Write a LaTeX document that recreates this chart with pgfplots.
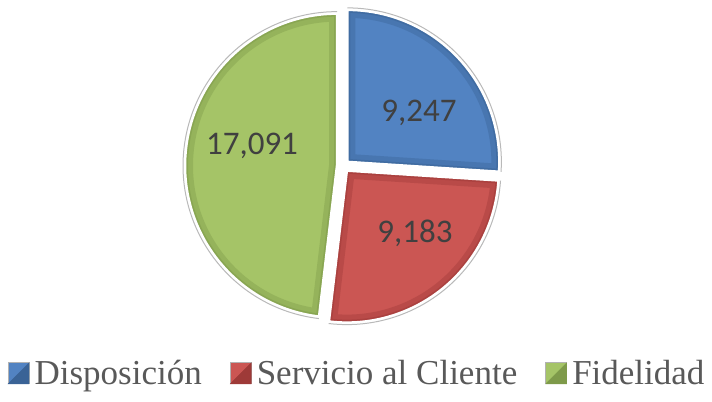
\documentclass[border=0pt]{standalone}
\usepackage{pgfplots}
\usepackage{pgfplotstable}
\usepackage{fontspec}
\usetikzlibrary{calc}
\pgfplotsset{compat=1.18}
\setmainfont{Liberation Serif}
\newfontfamily\lblfont{Carlito}
\definecolor{cBlue}{HTML}{5283C2}
\definecolor{cRed}{HTML}{CB5653}
\definecolor{cGreen}{HTML}{A5C467}
\definecolor{dBlue}{HTML}{3A6396}
\definecolor{dRed}{HTML}{9E3A38}
\definecolor{dGreen}{HTML}{7E9A4A}
\definecolor{txtgray}{HTML}{595959}
\definecolor{lblgray}{HTML}{404040}

\pgfplotstableread{
name value
Disposicion 9247
Servicio 9183
Fidelidad 17091
}\piedata

\begin{document}
\begin{tikzpicture}
% read values
\pgfplotstablegetelem{0}{value}\of\piedata \let\vA\pgfplotsretval
\pgfplotstablegetelem{1}{value}\of\piedata \let\vB\pgfplotsretval
\pgfplotstablegetelem{2}{value}\of\piedata \let\vC\pgfplotsretval
\edef\tot{\fpeval{\vA+\vB+\vC}}
% angles (clockwise from 12 o'clock)
\edef\aS{90}
\edef\aE{\fpeval{round(90-360*\vA/\tot,4)}}
\edef\bE{\fpeval{round(\aE-360*\vB/\tot,4)}}
\edef\cE{\fpeval{round(\bE-360*\vC/\tot,4)}}
\edef\aM{\fpeval{(\aS+\aE)/2}}
\edef\bM{\fpeval{(\aE+\bE)/2}}
\edef\cM{\fpeval{(\bE+\cE)/2}}
\def\R{152}
\def\ex{6}
\def\cx{343}
\def\cy{236}
\edef\axA{\fpeval{round(\cx+\ex*cosd(\aM),3)}}\edef\ayA{\fpeval{round(\cy+\ex*sind(\aM),3)}}
\edef\axB{\fpeval{round(\cx+\ex*cosd(\bM),3)}}\edef\ayB{\fpeval{round(\cy+\ex*sind(\bM),3)}}
\edef\axC{\fpeval{round(\cx+\ex*cosd(\cM),3)}}\edef\ayC{\fpeval{round(\cy+\ex*sind(\cM),3)}}
\begin{axis}[
  scale only axis, width=712bp, height=402bp,
  xmin=0, xmax=712, ymin=0, ymax=402,
  hide axis, clip=false,
  legend columns=3,
  legend style={at={(axis description cs:0.5,0.071)}, anchor=center,
    draw=none, fill=none, font=\fontsize{35bp}{40bp}\selectfont, text=txtgray,
    nodes={inner sep=0bp, anchor=west},
    /tikz/every odd column/.append style={column sep=5bp},
    /tikz/every even column/.append style={column sep=28bp}},
]
\addlegendimage{legend image code/.code={\draw[fill=cBlue, draw=gray!60, line width=1bp] (0bp,-10.5bp) rectangle (21bp,10.5bp); \fill[dBlue] (0bp,-10.5bp) -- (21bp,10.5bp) -- (21bp,-10.5bp) -- cycle;}}
\addlegendentry{Disposición}
\addlegendimage{legend image code/.code={\draw[fill=cRed, draw=gray!60, line width=1bp] (0bp,-10.5bp) rectangle (21bp,10.5bp); \fill[dRed] (0bp,-10.5bp) -- (21bp,10.5bp) -- (21bp,-10.5bp) -- cycle;}}
\addlegendentry{Servicio al Cliente}
\addlegendimage{legend image code/.code={\draw[fill=cGreen, draw=gray!60, line width=1bp] (0bp,-10.5bp) rectangle (21bp,10.5bp); \fill[dGreen] (0bp,-10.5bp) -- (21bp,10.5bp) -- (21bp,-10.5bp) -- cycle;}}
\addlegendentry{Fidelidad}

% slices
\foreach \ax/\ay/\sa/\ea/\fc/\dc in {\axA/\ayA/\aS/\aE/cBlue/dBlue, \axB/\ayB/\aE/\bE/cRed/dRed, \axC/\ayC/\bE/\cE/cGreen/dGreen}{
  \edef\doslice{%
    \noexpand\fill[\fc] (axis cs:\ax,\ay) -- ++(\sa:\R bp) arc[start angle=\sa, end angle=\ea, radius=\R bp] -- cycle;
    \noexpand\begin{scope}
    \noexpand\clip (axis cs:\ax,\ay) -- ++(\sa:\R bp) arc[start angle=\sa, end angle=\ea, radius=\R bp] -- cycle;
    \noexpand\draw[\dc, opacity=0.4, line width=16bp, line join=miter] (axis cs:\ax,\ay) -- ++(\sa:\R bp) arc[start angle=\sa, end angle=\ea, radius=\R bp] -- cycle;
    \noexpand\draw[\dc, opacity=0.5, line width=6bp, line join=miter] (axis cs:\ax,\ay) -- ++(\sa:\R bp) arc[start angle=\sa, end angle=\ea, radius=\R bp] -- cycle;
    \noexpand\end{scope}
    \noexpand\draw[white, line width=2.5bp, line join=miter] (axis cs:\ax,\ay) -- ++(\sa:\R bp) arc[start angle=\sa, end angle=\ea, radius=\R bp] -- cycle;
    \noexpand\draw[gray!55, line width=1bp] ($(axis cs:\ax,\ay)+(\sa:\R bp+2bp)$) arc[start angle=\sa, end angle=\ea, radius=\R bp+2bp];
  }
  \doslice
}

% labels
\pgfplotsset{/pgf/number format/.cd, 1000 sep={,}, assume math mode=true}
\node[font=\lblfont\fontsize{33bp}{36bp}\selectfont, text=lblgray, anchor=base, inner sep=0pt] at (axis cs:419,280) {\pgfmathprintnumber{\vA}};
\node[font=\lblfont\fontsize{33bp}{36bp}\selectfont, text=lblgray, anchor=base, inner sep=0pt] at (axis cs:415,159) {\pgfmathprintnumber{\vB}};
\node[font=\lblfont\fontsize{33bp}{36bp}\selectfont, text=lblgray, anchor=base, inner sep=0pt] at (axis cs:252,247) {\pgfmathprintnumber{\vC}};
\end{axis}
\pgfresetboundingbox
\path (0,0) rectangle (712bp,402bp);
\end{tikzpicture}
\end{document}
